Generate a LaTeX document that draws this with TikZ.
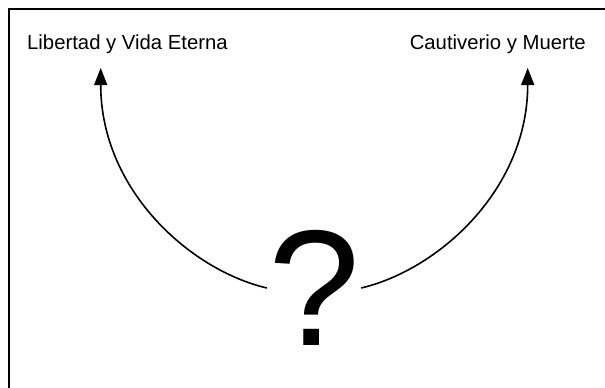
\documentclass[tikz,border=0pt]{standalone}
\usepackage{fontspec}
\setmainfont{Liberation Sans}
\usetikzlibrary{arrows.meta}

\begin{document}
\begin{tikzpicture}[
    x=1pt, y=-1pt,
    frame/.style={line width=1.4pt, black},
    lbl/.style={font=\fontsize{20.3}{24}\selectfont, inner sep=0pt, anchor=base west},
    arr/.style={-{Triangle[length=17pt, width=13pt]}, line width=1.6pt, black},
]
\useasboundingbox (0,0) rectangle (605,388);

% --- frame (open at right and bottom) ---
\draw[frame] (9,400) -- (9,9) -- (620,9);

% --- outcomes ---
\node[lbl] (libertad) at (27,49) {Libertad y Vida Eterna};
\node[lbl, anchor=base east] (cautiverio) at (586,49) {Cautiverio y Muerte};

% --- the question ---
\node[font=\fontsize{165}{165}\selectfont, inner sep=1pt]
    (pregunta) at (314,288) {?};

\coordinate (tipL) at (100.7,68);
\coordinate (tipR) at (527.7,68);

\draw[arr] (pregunta.west) .. controls (190,270) and (100.7,190) .. (tipL);
\draw[arr] (pregunta.east) .. controls (438,270) and (527.7,190) .. (tipR);

\end{tikzpicture}
\end{document}
